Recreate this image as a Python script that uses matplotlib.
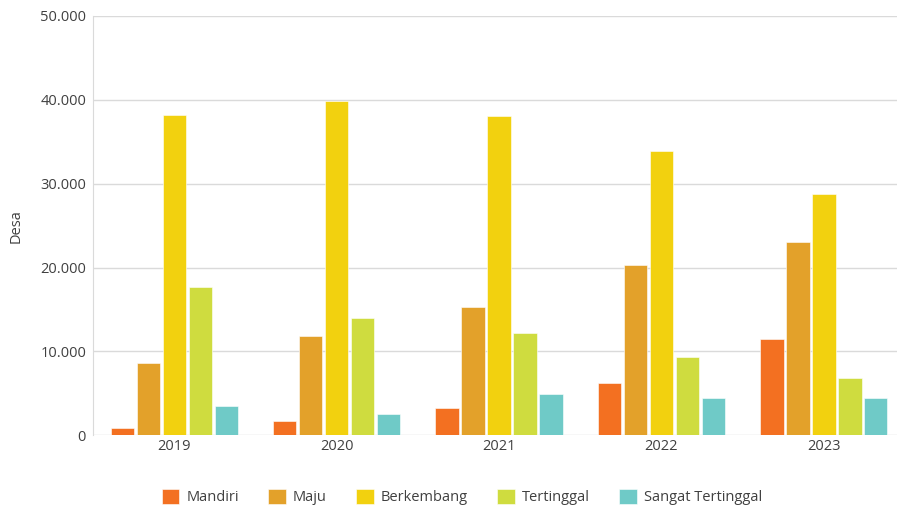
import matplotlib.pyplot as plt
import matplotlib.ticker as mticker
import numpy as np

plt.rcParams['font.family'] = ['Open Sans', 'DejaVu Sans']

years = ['2019', '2020', '2021', '2022', '2023']
mandiri = [840, 1741, 3269, 6238, 11456]
maju = [8647, 11899, 15321, 20249, 23035]
berkembang = [38185, 39900, 38083, 33902, 28766]
tertinggal = [17626, 13992, 12150, 9300, 6880]
sangat_tertinggal = [3536, 2517, 4982, 4480, 4400]

series = [('Mandiri', mandiri, '#F37021'),
          ('Maju', maju, '#E3A12A'),
          ('Berkembang', berkembang, '#F2D10F'),
          ('Tertinggal', tertinggal, '#CFDC3F'),
          ('Sangat Tertinggal', sangat_tertinggal, '#6FCAC7')]

fig = plt.figure(figsize=(8.97, 5.13), dpi=100)
ax = fig.add_axes([93 / 897, 1 - 435.3 / 513, 1 - 93 / 897, (435.3 - 16) / 513])

x = np.arange(len(years))
pitch = 0.16  # distance between bars in a group
width = 0.143
for i, (name, vals, col) in enumerate(series):
    ax.bar(x + (i - 2) * pitch, vals, width, color=col, label=name,
           edgecolor='white', linewidth=0.4, zorder=3)

ax.set_xlim(-0.50, 4.45)
ax.set_ylim(0, 50000)
ax.set_yticks(np.arange(0, 50001, 10000))
ax.yaxis.set_major_formatter(mticker.FuncFormatter(lambda v, p: '{:,.0f}'.format(v).replace(',', '.')))
ax.set_xticks(x)
ax.set_xticklabels(years)
ax.grid(axis='y', color='#DADADA', linewidth=1, zorder=0)
for s in ['top', 'right', 'bottom']:
    ax.spines[s].set_visible(False)
ax.spines['left'].set_color('#DADADA')
ax.tick_params(axis='both', length=0, labelsize=10.5, colors='#404040')
ax.tick_params(axis='y', pad=5)
ax.tick_params(axis='x', pad=3)
ax.set_ylabel('Desa', fontsize=10.5, color='#404040', labelpad=12)

fig.legend(loc='center', bbox_to_anchor=(462 / 897, 1 - 497 / 513), ncol=5,
           frameon=False, fontsize=10.5, handlelength=1.2, handleheight=1.2,
           columnspacing=2.0, handletextpad=0.5, labelcolor='#404040')

plt.savefig('out.png', dpi=100)
